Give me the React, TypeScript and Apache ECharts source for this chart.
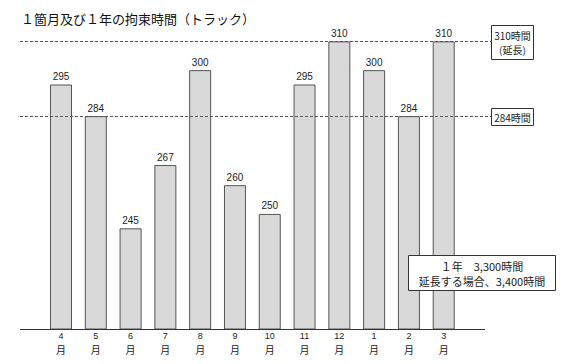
import React, { useEffect, useRef } from "react";
import * as echarts from "echarts";

const titleText = "１箇月及び１年の拘束時間（トラック）";
const months = ["4", "5", "6", "7", "8", "9", "10", "11", "12", "1", "2", "3"];
const monthUnit = "月";
const hours = [295, 284, 245, 267, 300, 260, 250, 295, 310, 300, 284, 310];
const refValues = [310, 284];
const refLabels = ["310時間\n(延長)", "284時間"];
const noteLines = ["１年　3,300時間", "延長する場合、3,400時間"];
const axisMin = 210;
const axisMax = 320;

const FONT = "'Noto Sans CJK JP', 'Noto Sans', sans-serif";
const NUMFONT = "'Liberation Sans', Arial, sans-serif";

export default function App() {
  const ref = useRef<HTMLDivElement>(null);
  useEffect(() => {
    if (!ref.current) return;
    const chart = echarts.init(ref.current, undefined, { renderer: "svg" });
    const baseAxis = {
      type: "category",
      data: months,
      position: "bottom",
      axisLine: { show: false },
      axisTick: { show: false },
      splitLine: { show: false },
    };
    chart.setOption({
      animation: false,
      backgroundColor: "#fff",
      grid: { left: 43.6, right: 101.9, top: 12.6, bottom: 35 },
      xAxis: [
        {
          ...baseAxis,
          axisLabel: {
            margin: 2,
            interval: 0,
            fontSize: 9,
            lineHeight: 10,
            fontFamily: NUMFONT,
            color: "#222",
          },
        },
        {
          ...baseAxis,
          axisLabel: {
            margin: 15,
            interval: 0,
            fontSize: 10,
            lineHeight: 11,
            fontFamily: FONT,
            color: "#222",
            formatter: () => monthUnit,
          },
        },
      ],
      yAxis: {
        type: "value",
        min: axisMin,
        max: axisMax,
        show: false,
        splitLine: { show: false },
      },
      series: [
        {
          type: "bar",
          data: hours,
          barWidth: 22,
          itemStyle: { color: "#d9d9d9", borderColor: "#555", borderWidth: 1 },
          label: {
            show: true,
            position: "top",
            distance: 3,
            fontSize: 10,
            fontFamily: NUMFONT,
            color: "#222",
          },
        },
      ],
    });

    const baseY = Math.round(chart.convertToPixel({ yAxisIndex: 0 }, axisMin) as number) + 0.5;
    const graphics: any[] = [
      {
        type: "text",
        z: 100,
        style: {
          text: titleText,
          x: 21,
          y: 18,
          fill: "#111",
          fontSize: 13,
          fontFamily: FONT,
          align: "left",
          verticalAlign: "middle",
        },
      },
      {
        type: "line",
        z: 100,
        shape: { x1: 20, y1: baseY, x2: 485, y2: baseY },
        style: { stroke: "#333", lineWidth: 1 },
      },
    ];
    refValues.forEach((v, i) => {
      const y = Math.round(chart.convertToPixel({ yAxisIndex: 0 }, v) as number) + 0.5;
      graphics.push({
        type: "line",
        z: 100,
        shape: { x1: 20, y1: y, x2: 491, y2: y },
        style: { stroke: "#555", lineWidth: 1, lineDash: [3, 2] },
      });
      const twoLine = refLabels[i].includes("\n");
      const h = twoLine ? 34 : 17;
      graphics.push({
        type: "rect",
        z: 100,
        shape: { x: 491.5, y: Math.round(y - h / 2) + 0.5, width: 42, height: h },
        style: { fill: "#fff", stroke: "#333", lineWidth: 1 },
      });
      graphics.push({
        type: "text",
        z: 101,
        style: {
          text: refLabels[i],
          x: 512.5,
          y: y + 0.5,
          fill: "#222",
          fontSize: 10,
          lineHeight: 14,
          fontFamily: FONT,
          align: "center",
          verticalAlign: "middle",
        },
      });
    });
    graphics.push({
      type: "rect",
      z: 100,
      shape: { x: 408.5, y: 255.5, width: 147, height: 35 },
      style: { fill: "#fff", stroke: "#333", lineWidth: 1 },
    });
    graphics.push({
      type: "text",
      z: 101,
      style: {
        text: noteLines.join("\n"),
        x: 482,
        y: 273.5,
        fill: "#222",
        fontSize: 11,
        lineHeight: 15,
        fontFamily: FONT,
        align: "center",
        verticalAlign: "middle",
      },
    });
    chart.setOption({ graphic: graphics });

    return () => chart.dispose();
  }, []);
  return (
    <div
      ref={ref}
      style={{ position: "fixed", left: 0, top: 0, width: 563, height: 364 }}
    />
  );
}
